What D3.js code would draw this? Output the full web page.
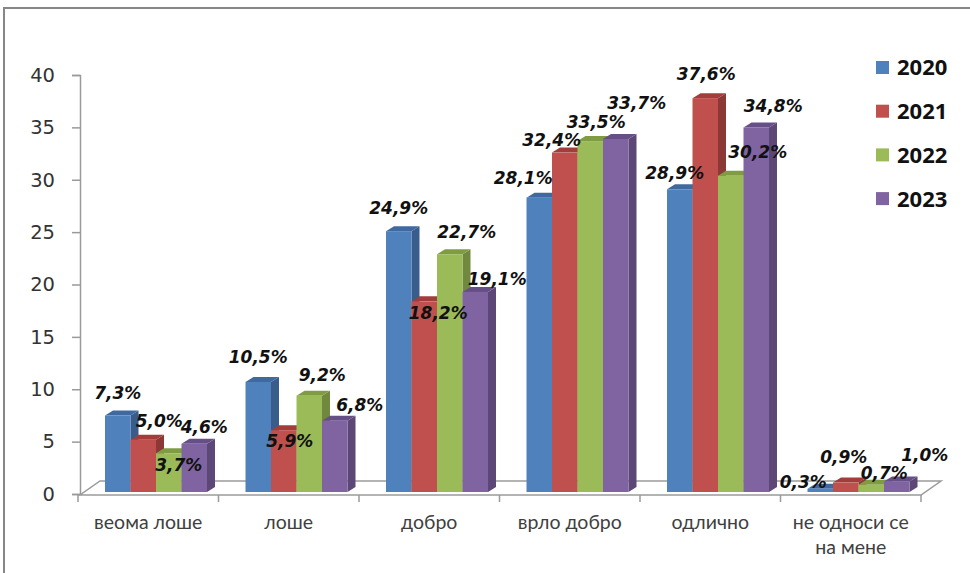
<!DOCTYPE html>
<html>
<head>
<meta charset="utf-8">
<script src="https://cdn.jsdelivr.net/npm/d3@7"></script>
<style>
  html, body { margin: 0; padding: 0; background: #fff; }
  svg { display: block; }
</style>
</head>
<body>
<svg id="chart" width="970" height="573"></svg>
<script>
// ---- data ----
const categories = ["веома лоше", "лоше", "добро", "врло добро", "одлично", "не односи се на мене"];
const years = ["2020", "2021", "2022", "2023"];
const values2020 = [7.3, 10.5, 24.9, 28.1, 28.9, 0.3];
const values2021 = [5.0, 5.9, 18.2, 32.4, 37.6, 0.9];
const values2022 = [3.7, 9.2, 22.7, 33.5, 30.2, 0.7];
const values2023 = [4.6, 6.8, 19.1, 33.7, 34.8, 1.0];
const yTicks = [0, 5, 10, 15, 20, 25, 30, 35, 40];

// label nudges (Excel 3D label placement), per year, per category: [dx, dy]
const labelNudge = [
  [[-4, 0], [-4, -3], [-4, -1], [-20, 2], [-9, 6], [-21, 15]],
  [[12, 3], [2, 33], [10, 34], [-17, 9], [-3, -2], [-6, -4]],
  [[6, 34], [9, 1], [13, 0], [2, 3], [23, -2], [9, 10]],
  [[6, 5], [21, 6], [18, 9], [17, -14], [13, 1], [24, -4]]
];

const seriesValues = [values2020, values2021, values2022, values2023];
const front = ["#4F81BD", "#C0504D", "#9BBB59", "#8064A2"];
const topC  = ["#3F6AA0", "#A13E3B", "#7F9C43", "#664F86"];
const sideC = ["#385D8A", "#8C3836", "#71893F", "#5C4776"];

const svg = d3.select("#chart");

// frame
svg.append("rect").attr("x", 4).attr("y", 8).attr("width", 980).attr("height", 600)
  .attr("fill", "#fff").attr("stroke", "#878787").attr("stroke-width", 2);

const x = d3.scaleBand().domain(categories).range([78, 921]);
const xs = d3.scaleBand().domain(years).range([27, 129]);
const y = d3.scaleLinear().domain([0, 40]).range([494, 75]);

const depthX = 8, depthY = -5;   // bar depth projection
const floorDX = 20, floorDY = -14;
const barLift = -2;              // bars sit slightly back on the floor

// floor
const fx0 = 80, fx1 = 921, fy = 495;
svg.append("path")
  .attr("d", `M${fx0},${fy} L${fx1},${fy} L${fx1 + floorDX},${fy + floorDY} L${fx0 + floorDX},${fy + floorDY} Z`)
  .attr("fill", "#fff").attr("stroke", "#9a9a9a").attr("stroke-width", 1.5);

// category ticks on the front edge
const bounds = categories.map(c => x(c)).concat([x(categories[categories.length - 1]) + x.bandwidth()]);
svg.append("g").selectAll("line").data(bounds).join("line")
  .attr("x1", d => d).attr("x2", d => d)
  .attr("y1", fy).attr("y2", fy + 7)
  .attr("stroke", "#9a9a9a").attr("stroke-width", 1.5);

// y axis
const yAxis = d3.axisLeft(y).tickValues(yTicks).tickSize(8).tickPadding(17).tickFormat(d3.format("d"));
const ga = svg.append("g").attr("transform", "translate(80,0)").call(yAxis);
ga.select(".domain").attr("stroke", "#9a9a9a").attr("stroke-width", 1.5);
ga.selectAll(".tick line").attr("stroke", "#9a9a9a").attr("stroke-width", 1.5);
ga.selectAll(".tick text").attr("font-family", "DejaVu Sans, Verdana, sans-serif")
  .attr("font-size", 19.5).attr("fill", "#333");

// bars
const gBars = svg.append("g");
categories.forEach((cat, ci) => {
  years.forEach((yr, si) => {
    const v = seriesValues[si][ci];
    const bx = x(cat) + xs(yr);
    const bw = xs.bandwidth();
    const by = y(v) + barLift;
    const bb = y(0) + barLift;
    // side
    gBars.append("path")
      .attr("d", `M${bx + bw},${by} L${bx + bw + depthX},${by + depthY} L${bx + bw + depthX},${bb + depthY} L${bx + bw},${bb} Z`)
      .attr("fill", sideC[si]);
    // top
    gBars.append("path")
      .attr("d", `M${bx},${by} L${bx + depthX},${by + depthY} L${bx + bw + depthX},${by + depthY} L${bx + bw},${by} Z`)
      .attr("fill", topC[si]);
    // front
    gBars.append("rect")
      .attr("x", bx).attr("y", by).attr("width", bw).attr("height", Math.max(0, bb - by))
      .attr("fill", front[si]);
  });
});

// data labels
const fmt = v => v.toFixed(1).replace(".", ",") + "%";
const gLab = svg.append("g");
categories.forEach((cat, ci) => {
  years.forEach((yr, si) => {
    const v = seriesValues[si][ci];
    const cx = x(cat) + xs(yr) + xs.bandwidth() / 2 + depthX / 2;
    const cy = y(v) + barLift - 22;
    const n = labelNudge[si][ci];
    gLab.append("text")
      .attr("x", cx + n[0]).attr("y", cy + n[1]).attr("dy", "0.35em")
      .attr("text-anchor", "middle")
      .attr("font-family", "DejaVu Sans, Verdana, sans-serif")
      .attr("font-weight", "bold").attr("font-style", "italic")
      .attr("font-size", 17).attr("fill", "#111")
      .text(fmt(v));
  });
});

// category labels
const gCat = svg.append("g");
const catLines = [["веома лоше"], ["лоше"], ["добро"], ["врло добро"], ["одлично"], ["не односи се", "на мене"]];
categories.forEach((cat, ci) => {
  const t = gCat.append("text")
    .attr("x", x(cat) + x.bandwidth() / 2)
    .attr("y", 529)
    .attr("text-anchor", "middle")
    .attr("font-family", "Lato, 'Open Sans', sans-serif")
    .attr("font-size", 19.5).attr("fill", "#404040");
  catLines[ci].forEach((ln, li) => {
    t.append("tspan").attr("x", x(cat) + x.bandwidth() / 2).attr("dy", li === 0 ? 0 : 25).text(ln);
  });
});

// legend
const lg = svg.append("g");
years.forEach((yr, si) => {
  const ly = 67.5 + si * 43.7;
  lg.append("rect").attr("x", 876).attr("y", ly - 6.5).attr("width", 13).attr("height", 13).attr("fill", front[si]);
  lg.append("text").attr("x", 897).attr("y", ly).attr("dy", "0.36em")
    .attr("font-family", "'Open Sans', sans-serif").attr("font-weight", "bold")
    .attr("font-size", 22).attr("fill", "#111").text(yr);
});
</script>
</body>
</html>
